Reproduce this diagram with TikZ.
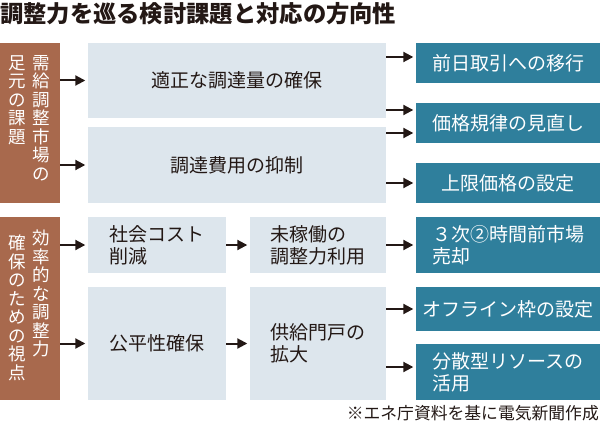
\documentclass[tikz,border=0pt]{standalone}
\usepackage{fontspec}
\setmainfont{Noto Sans CJK JP}
\usetikzlibrary{arrows.meta}
\begin{document}
\begin{tikzpicture}[x=1pt,y=-1pt,
  issue/.style={fill=issuecolor,inner sep=0pt},
  vcol/.style={text=white,inner sep=0pt,align=center,anchor=north,font=\fontsize{17.5}{18.5}\selectfont},
  topic/.style={fill=topiccolor,text=inkcolor,inner sep=0pt,align=left,font=\fontsize{19}{22}\selectfont},
  measure/.style={fill=measurecolor,text=white,inner sep=0pt,align=left,minimum width=184pt,font=\fontsize{19}{22}\selectfont},
  arr/.style={draw=inkcolor,line width=2pt,shorten >=2.5pt,-{Triangle[length=10pt,width=10pt]}}]
  \definecolor{issuecolor}{HTML}{A8694D}
  \definecolor{topiccolor}{HTML}{DDE6ED}
  \definecolor{measurecolor}{HTML}{2F7F9C}
  \definecolor{inkcolor}{HTML}{231815}
  \useasboundingbox (0,0) rectangle (600,425);
  \node[anchor=west,inner sep=0pt,text=inkcolor,font=\bfseries\fontsize{23.3}{23}\selectfont] (title) at (0,14) {調整力を巡る検討課題と対応の方向性};
  % left column
  \node[issue,minimum width=60pt,minimum height=160pt] (mkt) at (30,123) {};
  \node[issue,minimum width=60pt,minimum height=183pt] (view) at (30,308.5) {};
  \node[vcol] (mktA) at (41.5,55) {需\\給\\調\\整\\市\\場\\の};
  \node[vcol] (mktB) at (17,55) {足\\元\\の\\課\\題};
  \node[vcol] (viewA) at (41.5,230) {効\\率\\的\\な\\調\\整\\力};
  \node[vcol] (viewB) at (17,235) {確\\保\\の\\た\\め\\の\\視\\点};
  % topics
  \node[topic,minimum width=298pt,minimum height=75pt] (ensure) at (237,80.5) {適正な調達量の確保};
  \node[topic,minimum width=298pt,minimum height=76pt] (cost) at (237,165) {調達費用の抑制};
  \node[topic,minimum width=138pt,minimum height=56pt] (social) at (157,245) {社会コスト\\削減};
  \node[topic,minimum width=136pt,minimum height=56pt] (idle) at (318,245) {未稼働の\\調整力利用};
  \node[topic,minimum width=138pt,minimum height=113pt] (fair) at (157,343.5) {公平性確保};
  \node[topic,minimum width=136pt,minimum height=113pt] (supply) at (318,343.5) {供給門戸の\\拡大};
  % measures
  \node[measure,minimum height=40pt] (dayahead) at (508,63) {前日取引への移行};
  \node[measure,minimum height=40pt] (pricerule) at (508,123) {価格規律の見直し};
  \node[measure,minimum height=40pt] (pricecap) at (508,183) {上限価格の設定};
  \node[measure,minimum height=56pt] (sell) at (508,245) {３次②時間前市場\\売却};
  \node[measure,minimum height=44pt] (offline) at (508,309) {オフライン枠の設定};
  \node[measure,minimum height=56pt] (der) at (508,372) {分散型リソースの\\活用};
  % arrows
  \draw[arr] (mkt.east |- ensure.west) -- (ensure.west);
  \draw[arr] (mkt.east |- cost.west) -- (cost.west);
  \draw[arr] (view.east |- social.west) -- (social.west);
  \draw[arr] (view.east |- fair.west) -- (fair.west);
  \draw[arr] (social.east) -- (idle.west);
  \draw[arr] (fair.east) -- (supply.west);
  \draw[arr] ([yshift=6pt]dayahead.west -| ensure.east) -- ([yshift=6pt]dayahead.west);
  \draw[arr] ([yshift=13pt]pricerule.west -| ensure.east) -- ([yshift=13pt]pricerule.west);
  \draw[arr] ([yshift=-10pt]pricerule.west -| cost.east) -- ([yshift=-10pt]pricerule.west);
  \draw[arr] (cost.east |- pricecap.west) -- (pricecap.west);
  \draw[arr] (idle.east) -- (sell.west);
  \draw[arr] (supply.east |- offline.west) -- (offline.west);
  \draw[arr] ([yshift=5pt]der.west -| supply.east) -- ([yshift=5pt]der.west);
  \node[anchor=east,inner sep=0pt,text=inkcolor,font=\fontsize{16.8}{16.8}\selectfont] (src) at (599,413) {※エネ庁資料を基に電気新聞作成};
\end{tikzpicture}
\end{document}
